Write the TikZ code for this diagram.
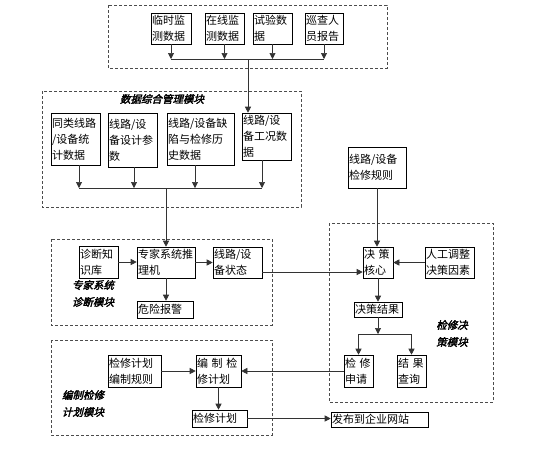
\documentclass[tikz,border=0pt]{standalone}
\usepackage{fontspec}
\setmainfont{Noto Sans CJK SC}
\newfontfamily\lblfont[FakeSlant=0.25,FakeBold=2.5]{Noto Sans CJK SC}
\usetikzlibrary{arrows.meta,calc}
\tikzset{
 bx/.style={draw=black, line width=0.6pt, rectangle, inner xsep=1pt, inner ysep=0pt,
   align=left, font=\fontsize{11}{16}\selectfont, text=black},
 arr/.style={draw=black!80, line width=0.6pt, -{Triangle[width=6pt,length=6pt]}},
 ln/.style={draw=black!80, line width=0.6pt},
 modbox/.style={draw=black!70, line width=0.6pt, dash pattern=on 3pt off 2pt},
 lbl/.style={font=\lblfont\fontsize{10.5}{17}\selectfont, align=center, text=black}
}
\begin{document}
\begin{tikzpicture}[x=1pt,y=-1pt]
\useasboundingbox[fill=white] (0,0) rectangle (554,448);

% module frames
\draw[modbox] (108,5) rectangle (387,68);
\draw[modbox] (42,91) rectangle (301,207);
\draw[modbox] (51,239) rectangle (272,325);
\draw[modbox] (329,223) rectangle (493,402);
\draw[modbox] (51,340) rectangle (272,435);

% top sources
\node[bx,text width=38pt,minimum height=31pt] (T1) at (171,28.5) {临时监\\测数据};
\node[bx,text width=37pt,minimum height=31pt] (T2) at (224.5,28.5) {在线监\\测数据};
\node[bx,text width=37pt,minimum height=31pt] (T3) at (272.5,28.5) {试验数\\据};
\node[bx,text width=36pt,minimum height=31pt] (T4) at (324,28.5) {巡查人\\员报告};

% data management module
\node[lbl] (L2) at (162,99) {数据综合管理模块};
\node[bx,text width=47pt,minimum height=52pt] (D1) at (75.5,139) {同类线路\\/设备统\\计数据};
\node[bx,text width=47pt,minimum height=54pt] (D2) at (132.5,140) {线路/设\\备设计参\\数};
\node[bx,text width=65pt,minimum height=52pt] (D3) at (200.5,139) {线路/设备缺\\陷与检修历\\史数据};
\node[bx,text width=47pt,minimum height=47pt] (D4) at (266.5,136.5) {线路/设\\备工况数\\据};

% expert module
\node[bx,text width=37pt,minimum height=32pt] (E1) at (98.5,262) {诊断知\\识库};
\node[bx,text width=56pt,minimum height=31pt] (E2) at (166,262.5) {专家系统推\\理机};
\node[bx,text width=47pt,minimum height=31pt] (E3) at (237.5,262.5) {线路/设\\备状态};
\node[bx,text width=54pt,minimum height=17pt] (E4) at (165,309.5) {危险报警};
\node[lbl] (L3) at (93,293.5) {专家系统\\诊断模块};

% decision module
\node[bx,text width=56pt,minimum height=41pt] (F1) at (377,167.5) {线路/设备\\检修规则};
\node[bx,text width=28pt,minimum height=31pt] (F2) at (378,262.5) {决 策\\核心};
\node[bx,text width=47pt,minimum height=31pt] (F3) at (449.5,262.5) {人工调整\\决策因素};
\node[bx,text width=46pt,minimum height=15pt] (F4) at (378,309.5) {决策结果};
\node[bx,text width=27pt,minimum height=32pt] (F5) at (358.5,371) {检 修\\申请};
\node[bx,text width=27pt,minimum height=32pt] (F6) at (411.5,371) {结 果\\查询};
\node[lbl] (L4) at (452,333.5) {检修决\\策模块};

% planning module
\node[bx,text width=51pt,minimum height=32pt] (G1) at (134.5,371) {检修计划\\编制规则};
\node[bx,text width=43pt,minimum height=32pt] (G2) at (218.5,371) {编 制 检\\修计划};
\node[bx,text width=53pt,minimum height=17pt] (G3) at (219.5,418.5) {检修计划};
\node[bx,text width=95pt,minimum height=15pt] (G4) at (379.5,419.5) {发布到企业网站};
\node[lbl] (L5) at (83,403.5) {编制检修\\计划模块};

% top bus
\coordinate (b1) at (248,59);
\foreach \n in {T1,T2,T3,T4} \draw[arr] (\n.south) -- (\n.south |- b1);
\draw[ln] (T1.south |- b1) -- (T4.south |- b1);
\draw[arr] (b1) -- (b1 |- D4.north);

% second bus
\coordinate (b2) at (166,188);
\draw[arr] ([xshift=3.5pt]D1.south) -- ([xshift=3.5pt]D1.south |- b2);
\draw[arr] ([xshift=1.5pt]D2.south) -- ([xshift=1.5pt]D2.south |- b2);
\draw[arr] ([xshift=-5.5pt]D3.south) -- ([xshift=-5.5pt]D3.south |- b2);
\draw[arr] ([xshift=-4.5pt]D4.south) -- ([xshift=-4.5pt]D4.south |- b2);
\draw[ln] ([xshift=3.5pt]D1.south |- b2) -- ([xshift=-4.5pt]D4.south |- b2);
\draw[arr] (b2) -- (b2 |- E2.north);

% expert module links
\draw[arr] (E1.east) -- (E1.east -| E2.west);
\draw[arr] (E2.east) -- (E2.east -| E3.west);
\draw[arr] (E2.south) -- (E2.south |- E4.north);
\draw[arr] ([yshift=-9.5pt]E3.east) -- ([yshift=-9.5pt]E3.east -| F2.west);

% decision module links
\draw[arr] (F1.south) -- (F1.south |- F2.north);
\draw[arr] (F3.west) -- (F2.east);
\draw[arr] (F2.south) -- (F2.south |- F4.north);
\coordinate (b4) at (378,334);
\draw[arr] (F4.south) -- (b4);
\draw[arr] (b4) -| (F5.north);
\draw[arr] (b4) -| (F6.north);

% planning links
\draw[arr] (G1.east) -- (G1.east -| G2.west);
\draw[arr] (F5.west) -- (F5.west -| G2.east);
\draw[arr] (G2.south) -- (G2.south |- G3.north);
\draw[arr] (G3.east) -- (G3.east -| G4.west);
\end{tikzpicture}
\end{document}
